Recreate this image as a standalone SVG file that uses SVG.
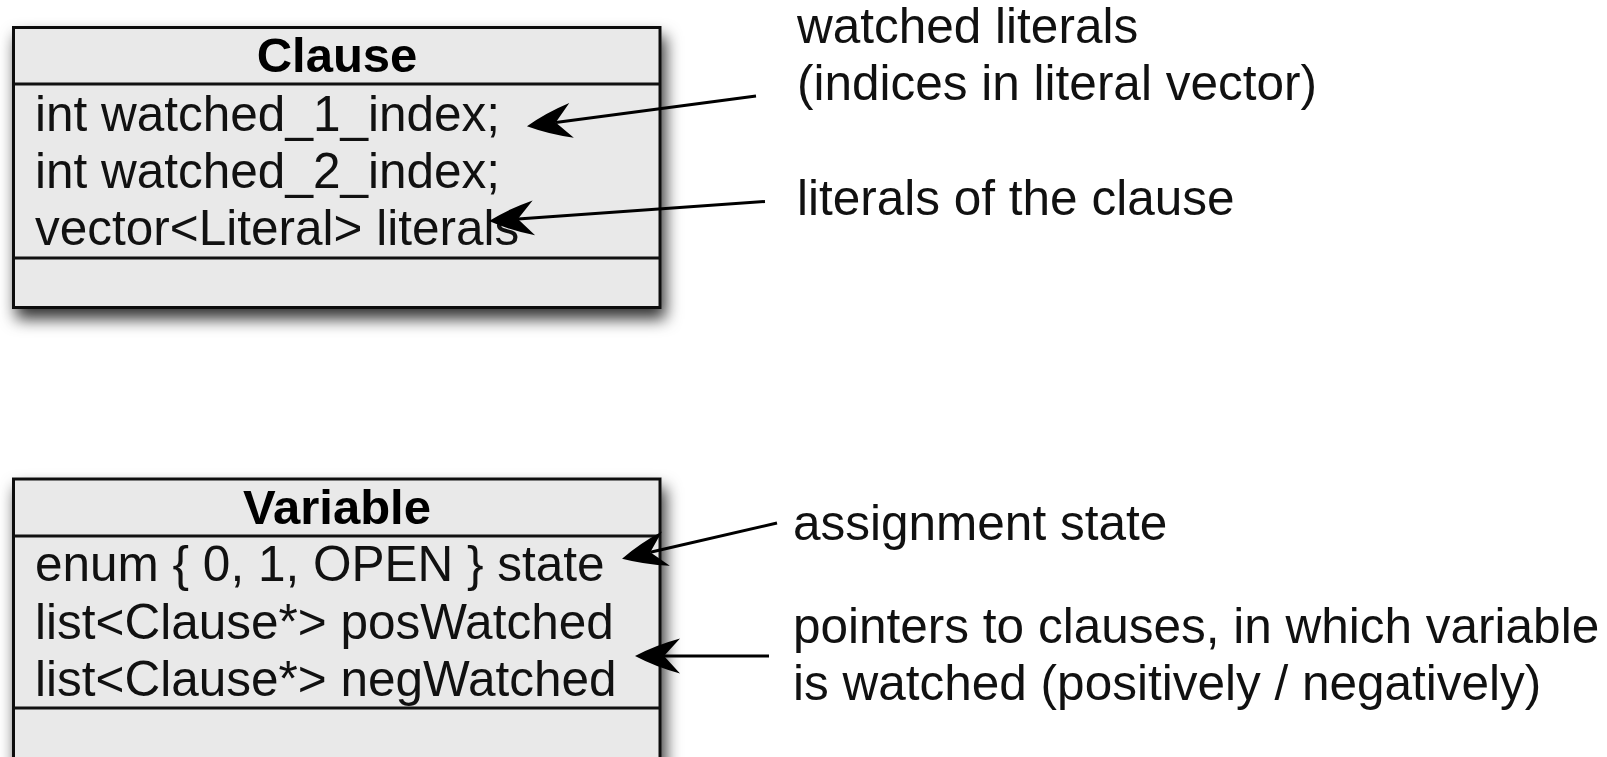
<svg xmlns="http://www.w3.org/2000/svg" width="1607" height="757" viewBox="0 0 1607 757">
  <style>
    .box { fill: #e9e9e9; stroke: #111; stroke-width: 3; }
    .sep { stroke: #111; stroke-width: 3; fill: none; }
    .title { font-family: "Liberation Sans", Arial, Helvetica, sans-serif; font-size: 49px; font-weight: bold; fill: #000; text-anchor: middle; }
    .attr { font-family: "Liberation Sans", Arial, Helvetica, sans-serif; font-size: 49.5px; fill: #111; }
    .note { font-family: "Liberation Sans", Arial, Helvetica, sans-serif; font-size: 49.5px; fill: #111; }
    .link { stroke: #000; stroke-width: 3; fill: none; marker-end: url(#head); }
  </style>
  <defs>
    <filter id="shadow" x="-10%" y="-20%" width="125%" height="145%">
      <feDropShadow dx="4" dy="10" stdDeviation="8" flood-color="#000" flood-opacity="0.8"/>
    </filter>
    <!-- swept arrowhead; path ends at the notch, tip sits 28px further on -->
    <marker id="head" markerUnits="userSpaceOnUse" viewBox="-50 -20 80 40" refX="-28" refY="0" markerWidth="80" markerHeight="40" orient="auto">
      <path d="M1,0 Q-20,-11 -44,-17.5 L-28,0 L-44,17.5 Q-20,11 1,0 Z" fill="#000"/>
    </marker>
  </defs>

  <rect width="1607" height="757" fill="#fff"/>

  <!-- Clause class -->
  <g id="clause">
    <rect class="box" x="13.5" y="27.5" width="646.5" height="280" filter="url(#shadow)"/>
    <line class="sep" x1="13.5" y1="84" x2="660" y2="84"/>
    <line class="sep" x1="13.5" y1="258" x2="660" y2="258"/>
    <text class="title" x="337" y="72">Clause</text>
    <text class="attr" x="35" y="131">int watched_1_index;</text>
    <text class="attr" x="35" y="188">int watched_2_index;</text>
    <text class="attr" x="35" y="245">vector&lt;Literal&gt; literals</text>
  </g>

  <!-- Variable class -->
  <g id="variable">
    <rect class="box" x="13.5" y="479" width="646.5" height="320" filter="url(#shadow)"/>
    <line class="sep" x1="13.5" y1="536" x2="660" y2="536"/>
    <line class="sep" x1="13.5" y1="708" x2="660" y2="708"/>
    <text class="title" x="337" y="524">Variable</text>
    <text class="attr" x="35" y="581">enum { 0, 1, OPEN } state</text>
    <text class="attr" x="35" y="638.5">list&lt;Clause*&gt; posWatched</text>
    <text class="attr" x="35" y="695.5">list&lt;Clause*&gt; negWatched</text>
  </g>

  <!-- annotations -->
  <g id="note-watched">
    <text class="note" x="797" y="43">watched literals</text>
    <text class="note" x="797" y="100">(indices in literal vector)</text>
  </g>
  <g id="note-literals">
    <text class="note" x="797" y="215">literals of the clause</text>
  </g>
  <g id="note-state">
    <text class="note" x="793" y="540">assignment state</text>
  </g>
  <g id="note-pointers">
    <text class="note" x="793" y="643">pointers to clauses, in which variable</text>
    <text class="note" x="793" y="700">is watched (positively / negatively)</text>
  </g>

  <!-- connectors -->
  <g id="connectors">
    <path class="link" d="M756,96 L555.7,122.4"/>
    <path class="link" d="M765,201.5 L517.9,219"/>
    <path class="link" d="M777,523 L650.3,552.2"/>
    <path class="link" d="M769,656 L664,656"/>
  </g>
</svg>
